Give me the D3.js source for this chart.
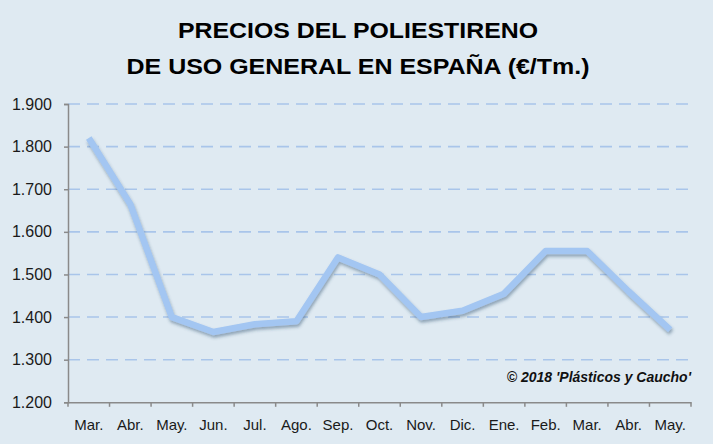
<!DOCTYPE html>
<html><head><meta charset="utf-8">
<script src="https://cdn.jsdelivr.net/npm/d3@7"></script>
<style>
html,body{margin:0;padding:0;background:#dfeaf2;}
svg{display:block;}
</style></head>
<body>
<svg id="chart" width="713" height="444"></svg>
<script>
const titleLines = ["PRECIOS DEL POLIESTIRENO", "DE USO GENERAL EN ESPAÑA (€/Tm.)"];
const months = ["Mar.","Abr.","May.","Jun.","Jul.","Ago.","Sep.","Oct.","Nov.","Dic.","Ene.","Feb.","Mar.","Abr.","May."];
const prices = [1820,1665,1400,1365,1383,1390,1540,1500,1400,1415,1455,1555,1555,1460,1370];
const yTicks = [1200,1300,1400,1500,1600,1700,1800,1900];
const credit = "© 2018 'Plásticos y Caucho'";

const svg = d3.select("#chart");
const W = 713, H = 444;
const m = {left:68, right:22, top:104, bottom:42};
const x = d3.scaleBand().domain(d3.range(months.length)).range([m.left, W - m.right]);
const y = d3.scaleLinear().domain([1200,1900]).range([402.3, 104]);

svg.append("rect").attr("width",W).attr("height",H).attr("fill","#dfeaf2");

const defs = svg.append("defs");
const f = defs.append("filter").attr("id","sh").attr("x","-10%").attr("y","-10%").attr("width","120%").attr("height","130%");
f.append("feDropShadow").attr("dx",1).attr("dy",2.5).attr("stdDeviation",1.8)
 .attr("flood-color","#2f4f70").attr("flood-opacity",0.45);

// title
const titleWidths = [360, 463];
svg.append("g").selectAll("text").data(titleLines).join("text")
  .attr("x", 358).attr("y",(d,i)=>37.5 + i*36)
  .attr("text-anchor","middle")
  .attr("font-family","Liberation Sans, Arial, sans-serif")
  .attr("font-weight","bold").attr("font-size",22.5).attr("fill","#000")
  .attr("textLength",(d,i)=>titleWidths[i]).attr("lengthAdjust","spacingAndGlyphs")
  .text(d=>d);

// gridlines
svg.append("g").selectAll("line").data(yTicks.filter(t=>t>1200)).join("line")
  .attr("x1", m.left).attr("x2", 693)
  .attr("y1", d=>y(d)).attr("y2", d=>y(d))
  .attr("stroke","#a9c5ea").attr("stroke-width",1.6)
  .attr("stroke-dasharray","12,7");

// axes
const yAxis = d3.axisLeft(y).tickValues(yTicks).tickSize(4).tickPadding(12)
  .tickFormat(d => { const s = String(d); return s[0] + "." + s.slice(1); });
const gy = svg.append("g").attr("transform",`translate(${m.left},0)`).call(yAxis);
gy.select(".domain").attr("stroke","#8a8a8a").attr("stroke-width",1.5);
gy.selectAll(".tick line").attr("stroke","#8a8a8a").attr("stroke-width",1.5);
gy.selectAll(".tick text").attr("font-family","Liberation Sans, Arial, sans-serif")
  .attr("font-size",16).attr("fill","#1a1a1a");

const xAxis = d3.axisBottom(x).tickSize(0).tickFormat(i => months[i]).tickPadding(17);
const gx = svg.append("g").attr("transform",`translate(0,${y(1200)})`).call(xAxis);
gx.select(".domain").attr("stroke","#8a8a8a").attr("stroke-width",1.5);
gx.selectAll(".tick text").attr("font-family","Liberation Sans, Arial, sans-serif")
  .attr("font-size",15).attr("fill","#1a1a1a");
// tick marks at band boundaries
const bounds = d3.range(months.length + 1).map(i => m.left + i * x.step());
svg.append("g").selectAll("line").data(bounds).join("line")
  .attr("x1",d=>d).attr("x2",d=>d).attr("y1",y(1200)).attr("y2",y(1200)+4.5)
  .attr("stroke","#8a8a8a").attr("stroke-width",1.5);

// line
const line = d3.line().x((d,i)=>x(i)+x.bandwidth()/2).y(d=>y(d));
svg.append("path").datum(prices).attr("d",line)
  .attr("fill","none").attr("stroke","#a3c6f2").attr("stroke-width",6.5)
  .attr("stroke-linejoin","round").attr("filter","url(#sh)");

// credit
svg.append("text").attr("x",691).attr("y",382).attr("text-anchor","end")
  .attr("font-family","Liberation Sans, Arial, sans-serif")
  .attr("font-weight","bold").attr("font-style","italic").attr("font-size",14)
  .attr("fill","#111").text(credit);
</script>
</body></html>
